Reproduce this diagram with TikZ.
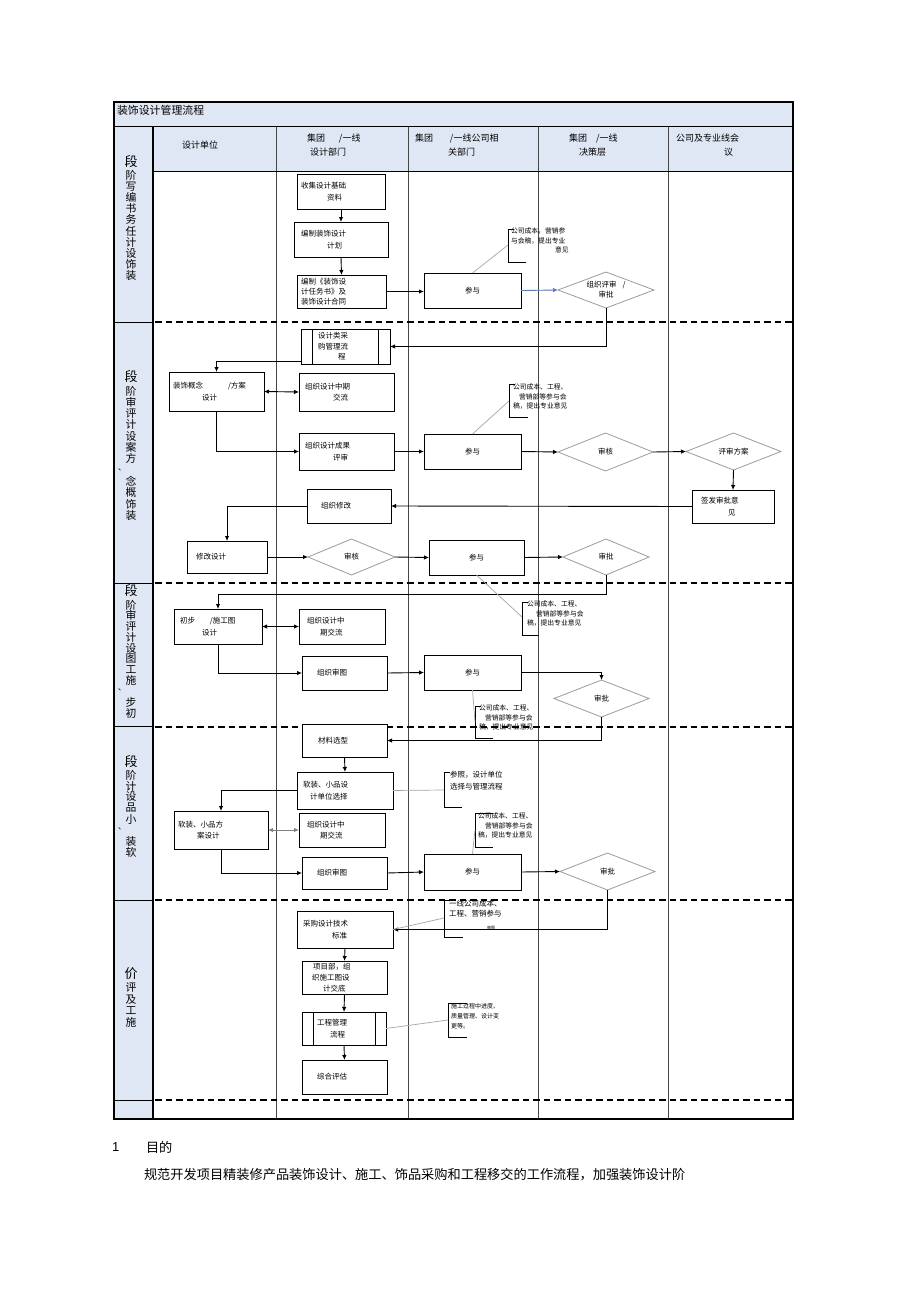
\documentclass[tikz,border=0pt]{standalone}
\usepackage{fontspec}
\setmainfont{Noto Sans CJK SC}
\newfontfamily\latinfont{Liberation Sans}
\usetikzlibrary{shapes.geometric,arrows.meta,calc}
\definecolor{hdrblue}{RGB}{224,231,244}
\definecolor{diagray}{RGB}{155,155,155}
\definecolor{callgray}{RGB}{165,165,165}
\definecolor{arrblue}{RGB}{95,120,185}
\definecolor{colline}{RGB}{70,70,70}
\begin{document}
\begin{tikzpicture}[x=1pt,y=-1pt,
  every node/.style={inner sep=0pt, outer sep=0pt},
  box/.style={draw=black, line width=1pt, fill=white, align=left, inner xsep=4pt, font=\fontsize{7.5}{11.5}\selectfont},
  pbox/.style={draw=black, line width=1pt, fill=white, align=center, minimum width=97pt, minimum height=35pt, font=\fontsize{7.5}{11.5}\selectfont},
  dia/.style={draw=diagray, line width=0.8pt, diamond, fill=white, font=\fontsize{7.5}{10}\selectfont, align=center},
  arr/.style={-{Latex[length=5pt,width=4.5pt]}, line width=0.9pt},
  darr/.style={{Latex[length=5pt,width=4.5pt]}-{Latex[length=5pt,width=4.5pt]}, line width=0.9pt},
  call/.style={draw=callgray, line width=0.7pt},
  brk/.style={line width=0.9pt},
  note/.style={anchor=north west, align=left, font=\fontsize{6.8}{9.5}\selectfont},
  hdr/.style={anchor=west, align=left, font=\fontsize{9}{14}\selectfont},
  stg/.style={font=\fontsize{10.8}{10.8}\selectfont},
  stgbig/.style={font=\fontsize{13}{13}\selectfont},
  stgdot/.style={font=\fontsize{8}{8}\selectfont},
  sepline/.style={dash pattern=on 6.5pt off 4pt, line width=1.8pt},
]
\useasboundingbox (0,0) rectangle (920,1303);
\fill[white] (0,0) rectangle (920,1303);

% ---------- table fills ----------
\fill[hdrblue] (114,102) rectangle (793,127);
\fill[hdrblue] (153,127) rectangle (793,171);
\fill[hdrblue] (114,127) rectangle (153,1119);

% ---------- grid ----------
\draw[line width=0.9pt, colline] (276,127) -- (276,1119) (408,127) -- (408,1119)
      (538,127) -- (538,1119) (668,127) -- (668,1119);
\draw[line width=0.9pt] (153,171) -- (793,171);
\draw[line width=1pt] (114,127) -- (793,127);
\foreach \yy in {322,583,726,900,1100} \draw[line width=1pt] (114,\yy) -- (153,\yy);
\foreach \yy in {322,583,727,900,1100} \draw[sepline] (155,\yy) -- (793,\yy);
\draw[line width=1.6pt] (153,127) -- (153,1119);
\draw[line width=1.5pt] (114,102) rectangle (793,1119);

% ---------- title & headers ----------
\node[anchor=west, font=\fontsize{10.9}{11}\selectfont] (title) at (117,110) {装饰设计管理流程};
\node[hdr] (h1) at (182,145) {设计单位};
\node[hdr] (h2) at (307,145) {集团\hspace*{14pt}/一线\\\hspace*{3pt}设计部门};
\node[hdr] (h3) at (415,145) {集团\hspace*{17pt}/一线公司相\\\hspace*{33pt}关部门};
\node[hdr] (h4) at (569,145) {集团\hspace*{9pt}/一线\\\hspace*{10pt}决策层};
\node[hdr] (h5) at (676,145) {公司及专业线会\\\hspace*{48pt}议};

% ---------- stage labels ----------
\node[stgbig] (s1a) at (131,162) {段};
\foreach \ch [count=\i] in {阶,写,编,书,务,任,计,设,饰,装}
  \node[stg] (s1c\i) at (131,{175+11.2*(\i-1)}) {\ch};
\node[stgbig] (s2a) at (131,377) {段};
\foreach \ch [count=\i] in {阶,审,评,计,设,案,方}
  \node[stg] (s2c\i) at (131,{391+11.3*(\i-1)}) {\ch};
\node[stgdot] (s2d) at (122,470) {、};
\foreach \ch [count=\i] in {念,概,饰,装}
  \node[stg] (s2e\i) at (131,{481.4+11.3*(\i-1)}) {\ch};
\node[stgbig] (s3a) at (131,591) {段};
\foreach \ch [count=\i] in {阶,审,评,计,设,图,工,施}
  \node[stg] (s3c\i) at (131,{605+10.8*(\i-1)}) {\ch};
\node[stgdot] (s3d) at (122,690) {、};
\foreach \ch [count=\i] in {步,初}
  \node[stg] (s3e\i) at (131,{702.2+10.8*(\i-1)}) {\ch};
\node[stgbig] (s4a) at (131,762) {段};
\foreach \ch [count=\i] in {阶,计,设,品,小}
  \node[stg] (s4c\i) at (131,{775+11*(\i-1)}) {\ch};
\node[stgdot] (s4d) at (122,829) {、};
\foreach \ch [count=\i] in {装,软}
  \node[stg] (s4e\i) at (131,{841+11*(\i-1)}) {\ch};
\node[stgbig] (s5a) at (131,974) {价};
\foreach \ch [count=\i] in {评,及,工,施}
  \node[stg] (s5c\i) at (131,{988+11.3*(\i-1)}) {\ch};

% ---------- stage 1 nodes ----------
\node[box, text width=80pt, minimum height=35pt] (b11) at (341,191.5) {收集设计基础\\\hspace*{26pt}资料};
\node[box, text width=86pt, minimum height=35pt] (b12) at (341,239.5) {\hspace*{3pt}编制装饰设计\\\hspace*{29pt}计划};
\node[box, text width=81pt, minimum height=33pt, font=\fontsize{7.5}{10}\selectfont] (b13) at (341.5,291.5) {编制《装饰设\\计任务书》及\\装饰设计合同};
\node[pbox] (p11) at (472.5,290.5) {参与};
\node[dia, minimum width=96pt, minimum height=36pt, aspect=2.67] (d11) at (606,290) {组织评审\hspace*{6pt}/\\审批};

% ---------- stage 2 nodes ----------
\node[box, text width=81pt, minimum height=35pt, font=\fontsize{7.5}{10.5}\selectfont] (b21) at (345.5,346.5) {\hspace*{13pt}设计类采\\\hspace*{13pt}购管理流\\\hspace*{33pt}程};
\draw[line width=1pt] ([xshift=11pt]b21.north west) -- ([xshift=11pt]b21.south west)
      ([xshift=-12pt]b21.north east) -- ([xshift=-12pt]b21.south east);
\node[box, text width=87pt, minimum height=39pt] (b22) at (216.5,391.5) {装饰概念\hspace*{25pt}/方案\\\hspace*{29pt}设计};
\node[box, text width=87pt, minimum height=38pt] (b23) at (346.5,392) {\hspace*{2pt}组织设计中期\\\hspace*{30pt}交流};
\node[box, text width=87pt, minimum height=37pt] (b24) at (346.5,451.5) {\hspace*{2pt}组织设计成果\\\hspace*{30pt}评审};
\node[pbox] (p21) at (472.5,451.5) {参与};
\node[dia, minimum width=95pt, minimum height=38pt, aspect=2.5] (d21) at (605.5,452) {审核};
\node[dia, minimum width=95pt, minimum height=37pt, aspect=2.57] (d22) at (733.5,451.5) {评审方案};
\node[box, text width=74pt, minimum height=33pt] (b25) at (733,506.5) {\hspace*{5pt}签发审批意\\\hspace*{32pt}见};
\node[box, text width=76pt, minimum height=34pt] (b26) at (349,506) {\hspace*{10pt}组织修改};
\node[box, text width=72pt, minimum height=32pt] (b27) at (227,557) {\hspace*{5pt}修改设计};
\node[dia, minimum width=87pt, minimum height=36pt, aspect=2.4] (d23) at (351.5,557) {审核};
\node[pbox, minimum width=95pt] (p22) at (476.5,557.5) {参与};
\node[dia, minimum width=86pt, minimum height=36pt, aspect=2.4] (d24) at (606,557) {审批};

% ---------- stage 3 nodes ----------
\node[box, text width=80pt, minimum height=35pt] (b31) at (218,626.5) {\hspace*{2pt}初步\hspace*{15pt}/施工图\\\hspace*{24pt}设计};
\node[box, text width=78pt, minimum height=35pt] (b32) at (342,626.5) {\hspace*{4pt}组织设计中\\\hspace*{17pt}期交流};
\node[box, text width=77pt, minimum height=34pt] (b33) at (344.5,673) {\hspace*{11pt}组织审图};
\node[pbox] (p31) at (472.5,672.5) {参与};
\node[dia, minimum width=95pt, minimum height=37pt, aspect=2.57] (d31) at (601.5,698.5) {审批};

% ---------- stage 4 nodes ----------
\node[box, text width=77pt, minimum height=33pt] (b41) at (344.5,740.5) {\hspace*{12pt}材料选型};
\node[box, text width=88pt, minimum height=37pt] (b42) at (345,790.5) {\hspace*{2pt}软装、小品设\\\hspace*{9pt}计单位选择};
\node[box, text width=86pt, minimum height=38pt] (b43) at (221,830) {软装、小品方\\\hspace*{19pt}案设计};
\node[box, text width=78pt, minimum height=34pt] (b44) at (342,830) {\hspace*{4pt}组织设计中\\\hspace*{17pt}期交流};
\node[box, text width=77pt, minimum height=32pt] (b45) at (344.5,873) {\hspace*{11pt}组织审图};
\node[pbox, minimum height=36pt] (p41) at (472.5,872) {参与};
\node[dia, minimum width=95pt, minimum height=37pt, aspect=2.57] (d41) at (607.5,871.5) {审批};

% ---------- stage 5 nodes ----------
\node[box, text width=88pt, minimum height=37pt] (b51) at (345,929.5) {\hspace*{2pt}采购设计技术\\\hspace*{31pt}标准};
\node[box, text width=77pt, minimum height=33pt, font=\fontsize{7.5}{11}\selectfont] (b52) at (344.5,977.5) {\hspace*{7pt}项目部，组\\\hspace*{6pt}织施工图设\\\hspace*{17pt}计交底};
\node[box, text width=76pt, minimum height=33pt] (b53) at (344,1028.5) {\hspace*{11pt}工程管理\\\hspace*{24pt}流程};
\draw[line width=1pt] ([xshift=11pt]b53.north west) -- ([xshift=11pt]b53.south west)
      ([xshift=-11pt]b53.north east) -- ([xshift=-11pt]b53.south east);
\node[box, text width=77pt, minimum height=34pt] (b54) at (344.5,1077) {\hspace*{11pt}综合评估};

% ---------- connectors ----------
\draw[arr] (b11.south) -- (b12.north);
\draw[arr] (b12.south) -- (b13.north);
\draw[arr] (b13.east) -- (b13.east -| p11.west);
\draw[arr, draw=arrblue, fill=arrblue] (p11.east) -- (d11.west);
\draw[arr] (d11.south) |- (b21.east);
\draw[arr] ($(b21.west)+(0,15)$) -| (b22.north);
\draw[darr] (b22.east) -- (b23.west);
\draw[arr] (b22.south) |- (b24.west);
\draw[arr] (b24.east) -- (p21.west);
\draw[arr] (p21.east) -- (d21.west);
\draw[arr] (d21.east) -- (d22.west);
\draw[arr] (d22.south) -- (b25.north);
\draw[arr] (b25.west) -- (b26.east);
\draw[arr] (b26.west) -| (b27.north);
\draw[arr] (b27.east) -- (d23.west);
\draw[arr] (d23.east) -- (p22.west);
\draw[arr] (p22.east) -- (d24.west);
\draw[arr] (d24.south) |- ($(b31.north)+(0,-15)$) -- (b31.north);
\draw[darr] (b31.east) -- (b32.west);
\draw[arr] (b31.south) |- (b33.west);
\draw[arr] (b33.east) -- (p31.west);
\draw[arr] (p31.east) -| (d31.north);
\draw[arr] (d31.south) |- (b41.east);
\draw[arr] (b41.south) -- (b42.north);
\draw[arr] (b42.west) -| (b43.north);
\draw[darr, draw=gray] (b43.east) -- (b44.west);
\draw[arr] (b43.south) |- (b45.west);
\draw[arr] (b45.east) -- (p41.west);
\draw[arr] (p41.east) -- (d41.west);
\draw[arr] (d41.south) |- (b51.east);
\draw[arr] (b51.south) -- (b52.north);
\draw[arr] (b52.south) -- (b53.north);
\draw[arr] (b53.south) -- (b54.north);

% ---------- annotations ----------
\draw[brk] (514,229) -- (508,229) -- (508,262) -- (526,262);
\node[note] (n11) at (511,228) {公司成本，营销参\\与会稿，提出专业\\\hspace*{44pt}意见};
\coordinate (c11) at (508,245);
\draw[call] (p11.north) -- (c11);

\draw[brk] (515,384) -- (509,384) -- (509,417) -- (528,417);
\node[note] (n21) at (513,384) {公司成本、工程、\\\hspace*{6pt}营销部等参与会\\稿，提出专业意见};
\coordinate (c21) at (509,401);
\draw[call] (p21.north) -- (c21);

\draw[brk] (528,602) -- (522,602) -- (522,635) -- (539,635);
\node[note] (n22) at (527,601) {公司成本、工程、\\\hspace*{9pt}营销部等参与会\\稿，提出专业意见};
\coordinate (c22) at (522,617);
\draw[call] (p22.south) -- (c22);

\draw[brk] (481,706) -- (475,706) -- (475,738) -- (493,738);
\node[note] (n31) at (479,705) {公司成本、工程、\\\hspace*{6pt}营销部等参与会\\稿，提出专业意见};
\coordinate (c31) at (475,722);
\draw[call] (p31.south) -- (c31);

\draw[brk] (450,772) -- (444,772) -- (444,807) -- (462,807);
\node[note, font=\fontsize{7.5}{12}\selectfont] (n41) at (450,771) {参照，设计单位\\选择与管理流程};
\coordinate (c41) at (444,790);
\draw[call] (b42.east) -- (c41);

\draw[brk] (493,813) -- (475,813) -- (475,847) -- (493,847);
\node[note] (n42) at (478,813) {公司成本、工程、\\\hspace*{7pt}营销部等参与会\\稿，提出专业意见};
\coordinate (c42) at (475,830);
\draw[call] (p41.north) -- (c42);

\draw[brk] (450,900) -- (444,900) -- (444,937) -- (463,937);
\node[note, font=\fontsize{7.5}{10}\selectfont] (n51) at (449,900) {一线公司成本、\\工程、营销参与};
\node[anchor=west, font=\fontsize{4}{4}\selectfont] (n51b) at (487,928) {审图};
\coordinate (c51) at (444,918);
\draw[call] (b51.east) -- (c51);

\draw[brk] (467,1003) -- (448,1003) -- (448,1037) -- (467,1037);
\node[note, font=\fontsize{6}{10}\selectfont] (n52) at (451,1003) {施工过程中进度、\\质量管理、设计变\\更等。};
\coordinate (c52) at (448,1020);
\draw[call] (b53.east) -- (c52);

% ---------- text below ----------
\node[anchor=west, font=\latinfont\fontsize{13}{13}\selectfont] (num1) at (112,1147) {1};
\node[anchor=west, font=\fontsize{13.2}{14}\selectfont] (goal) at (146,1147) {目的};
\node[anchor=west, font=\fontsize{13.2}{14}\selectfont] (para) at (144,1175) {规范开发项目精装修产品装饰设计、施工、饰品采购和工程移交的工作流程，加强装饰设计阶};
\end{tikzpicture}
\end{document}
